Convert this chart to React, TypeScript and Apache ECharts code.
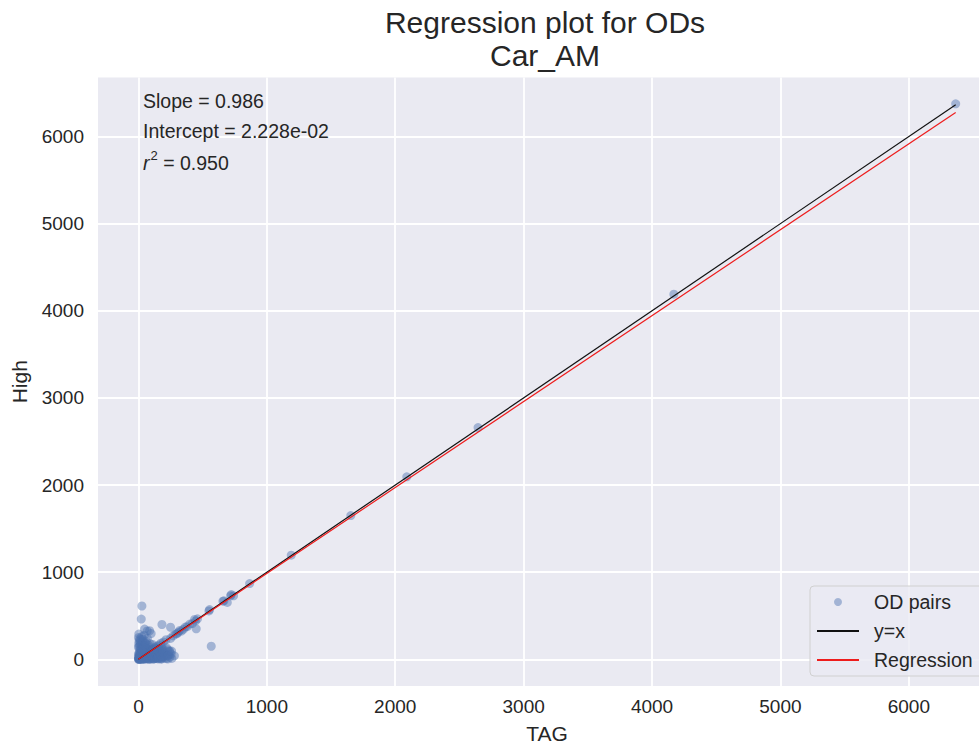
import React, { useEffect, useRef } from "react";
import * as echarts from "echarts";

const titleLines = ["Regression plot for ODs", "Car_AM"];
const xAxisName = "TAG";
const yAxisName = "High";
const seriesNames = ["OD pairs", "y=x", "Regression"];

const slope = 0.986;
const intercept = 0.02228;
const rSquared = 0.95;

// dense cluster of small OD pairs
const clusterPoints: [number, number][] = [
  [0, 0], [2, 5], [5, 1], [8, 12], [12, 3], [15, 20], [3, 18], [20, 8], [25, 30], [10, 40],
  [30, 15], [35, 5], [5, 55], [40, 35], [45, 10], [18, 60], [50, 50], [55, 22], [60, 5], [8, 75],
  [28, 80], [65, 40], [70, 70], [75, 15], [22, 95], [80, 55], [85, 0], [90, 90], [95, 30], [40, 110],
  [100, 75], [105, 10], [12, 120], [110, 115], [115, 45], [60, 130], [120, 5], [125, 95], [130, 140], [135, 60],
  [30, 145], [140, 20], [145, 150], [150, 85], [80, 160], [155, 40], [160, 165], [165, 110], [15, 170], [170, 10],
  [175, 185], [180, 70], [50, 190], [185, 140], [190, 30], [195, 200], [200, 100], [205, 15], [210, 60],
  [215, 225], [220, 130], [35, 230], [225, 40], [230, 5], [240, 90], [245, 25], [250, 240], [255, 60],
  [260, 10], [70, 240], [5, 210], [25, 260], [45, 275], [3, 290], [270, 270], [280, 40], [290, 290],
  [1, 30], [3, 3], [6, 25], [9, 9], [14, 45], [17, 2], [21, 33], [24, 14], [27, 52], [31, 0],
  [33, 27], [36, 64], [38, 18], [42, 48], [44, 2], [47, 72], [52, 31], [54, 88], [57, 12], [62, 58],
  [64, 102], [67, 25], [72, 45], [74, 118], [77, 3], [82, 85], [84, 30], [87, 135], [92, 52], [94, 18],
  [97, 105], [102, 38], [107, 68], [112, 2], [117, 88], [122, 28], [127, 125], [132, 48], [137, 10], [142, 100],
  [147, 70], [152, 5], [157, 125], [162, 52], [167, 88], [172, 35], [182, 5], [187, 95], [192, 55],
  [202, 38], [218, 8], [228, 110], [238, 55], [258, 95], [20, 130], [10, 100],
  [38, 160], [55, 140], [90, 180], [0, 60], [0, 140], [2, 180], [0, 250], [60, 210], [110, 170],
  [4, 8], [7, 35], [11, 15], [13, 65], [16, 28], [19, 48], [23, 4], [26, 70], [29, 38], [32, 88],
  [34, 11], [37, 45], [41, 22], [43, 95], [46, 58], [49, 6], [51, 105], [53, 42], [56, 74], [58, 19],
  [61, 115], [63, 35], [66, 85], [69, 8], [71, 55], [73, 98], [76, 28], [78, 68], [81, 12], [83, 108],
  [86, 48], [88, 22], [91, 72], [93, 5], [96, 62], [98, 40], [103, 88], [106, 25], [108, 50], [113, 78],
  [116, 15], [118, 110], [121, 60], [124, 35], [128, 8], [131, 85], [134, 22], [138, 45], [143, 125], [146, 12],
  [151, 58], [154, 30], [158, 95], [163, 18], [168, 62], [173, 4], [178, 42], [183, 120], [188, 18], [193, 80],
  [6, 150], [14, 195], [24, 175], [33, 205], [9, 235], [19, 225], [42, 135], [28, 115], [48, 160], [58, 180],
];

// points spread along the diagonal
const diagonalPoints: [number, number][] = [
  [300, 295], [310, 310], [320, 330], [335, 325], [350, 345], [365, 370], [380, 375], [400, 405],
  [420, 410], [437, 457], [445, 441], [460, 465], [549, 556], [554, 571], [658, 667], [666, 672],
  [692, 653], [718, 729], [723, 743], [741, 729], [866, 869], [1190, 1195], [1654, 1650],
  [2090, 2095], [2645, 2660], [4170, 4190], [6365, 6375],
];

// scattered outliers
const outlierPoints: [number, number][] = [
  [27, 612], [22, 462], [48, 347], [87, 328], [68, 326], [99, 296], [183, 400], [250, 368],
  [450, 350], [567, 150], [243, 96], [230, 42],
];

const allPoints = [...clusterPoints, ...diagonalPoints, ...outlierPoints];
const xMaxData = Math.max(...allPoints.map((p) => p[0]));
const xMinData = Math.min(...allPoints.map((p) => p[0]));

const xRange = [-315, 6679];
const yRange = [-306, 6677];

const TEXT = "#262626";
const FONT = "'Liberation Sans', Arial, sans-serif";

export default function App() {
  const ref = useRef<HTMLDivElement>(null);
  useEffect(() => {
    if (!ref.current) return;
    const chart = echarts.init(ref.current, null, { renderer: "svg" });
    const fmt = (v: number) => String(v);
    chart.setOption({
      animation: false,
      backgroundColor: "#ffffff",
      textStyle: { fontFamily: FONT, color: TEXT },
      title: {
        text: titleLines.join("\n"),
        left: "center",
        top: 6,
        padding: 0,
        textStyle: { fontSize: 30, fontWeight: "normal", color: TEXT, lineHeight: 33, fontFamily: FONT },
      },
      grid: {
        left: 98,
        width: 898,
        top: 77.5,
        height: 611,
        show: true,
        backgroundColor: "#EAEAF2",
        borderWidth: 0,
      },
      xAxis: {
        type: "value",
        min: xRange[0],
        max: xRange[1],
        splitNumber: 7,
        name: xAxisName,
        nameLocation: "middle",
        nameGap: 37,
        nameTextStyle: { fontSize: 21, color: TEXT, fontFamily: FONT },
        axisLine: { show: false },
        axisTick: { show: false },
        axisLabel: {
          formatter: fmt,
          fontSize: 19,
          color: TEXT,
          margin: 11,
          showMinLabel: false,
          showMaxLabel: false,
          fontFamily: FONT,
        },
        splitLine: { show: true, showMinLine: false, showMaxLine: false, lineStyle: { color: "#ffffff", width: 1.8 } },
      },
      yAxis: {
        type: "value",
        min: yRange[0],
        max: yRange[1],
        splitNumber: 7,
        name: yAxisName,
        nameLocation: "middle",
        nameGap: 68,
        nameTextStyle: { fontSize: 21, color: TEXT, fontFamily: FONT },
        axisLine: { show: false },
        axisTick: { show: false },
        axisLabel: {
          formatter: fmt,
          fontSize: 19,
          color: TEXT,
          margin: 14,
          showMinLabel: false,
          showMaxLabel: false,
          fontFamily: FONT,
        },
        splitLine: { show: true, showMinLine: false, showMaxLine: false, lineStyle: { color: "#ffffff", width: 1.8 } },
      },
      legend: {
        orient: "vertical",
        left: 810,
        top: 586,
        padding: [6, 14, 6, 6],
        itemGap: 9,
        itemWidth: 42,
        itemHeight: 8,
        backgroundColor: "rgba(234,234,242,0.8)",
        borderColor: "#d0d0d0",
        borderWidth: 1,
        borderRadius: 4,
        textStyle: { fontSize: 19.5, color: TEXT, lineHeight: 20, padding: [0, 0, 0, 10], fontFamily: FONT },
        data: [
          { name: seriesNames[0], icon: "circle" },
          { name: seriesNames[1], itemStyle: { opacity: 0 } },
          { name: seriesNames[2], itemStyle: { opacity: 0 } },
        ],
      },
      graphic: [
        {
          type: "text",
          left: 143,
          top: 91,
          z: 100,
          style: { text: "Slope = " + slope.toFixed(3), fontSize: 19.5, fill: TEXT, fontFamily: FONT },
        },
        {
          type: "text",
          left: 143,
          top: 121,
          z: 100,
          style: {
            text: "Intercept = " + intercept.toExponential(3).replace("e-2", "e-02"),
            fontSize: 19.5,
            fill: TEXT,
            fontFamily: FONT,
          },
        },
        {
          type: "text",
          left: 143,
          top: 149,
          z: 100,
          style: {
            text: "{i|r}{s|2}{n| = " + rSquared.toFixed(3) + "}",
            fontSize: 19.5,
            fill: TEXT,
            fontFamily: FONT,
            rich: {
              i: { fontStyle: "italic", fontSize: 19.5, lineHeight: 24, verticalAlign: "bottom", fontFamily: FONT, fill: TEXT },
              s: { fontSize: 13, lineHeight: 24, verticalAlign: "top", padding: [0, 0, 0, 1], fontFamily: FONT, fill: TEXT },
              n: { fontSize: 19.5, lineHeight: 24, verticalAlign: "bottom", fontFamily: FONT, fill: TEXT },
            },
          },
        },
      ],
      series: [
        {
          name: seriesNames[0],
          type: "scatter",
          data: allPoints,
          symbolSize: 9,
          itemStyle: { color: "#4C72B0", opacity: 0.45 },
          emphasis: { disabled: true },
          z: 2,
        },
        {
          name: seriesNames[1],
          type: "line",
          data: [
            [xMinData, xMinData],
            [xMaxData, xMaxData],
          ],
          symbol: "none",
          lineStyle: { color: "#111111", width: 1.2 },
          itemStyle: { color: "#111111" },
          z: 3,
        },
        {
          name: seriesNames[2],
          type: "line",
          data: [
            [xMinData, slope * xMinData + intercept],
            [xMaxData, slope * xMaxData + intercept],
          ],
          symbol: "none",
          lineStyle: { color: "#ee1c1c", width: 1.2 },
          itemStyle: { color: "#ee1c1c" },
          z: 4,
        },
      ],
    });
    return () => chart.dispose();
  }, []);
  return (
    <div
      style={{
        position: "fixed",
        left: 0,
        top: 0,
        width: 979,
        height: 749,
        overflow: "hidden",
        background: "#fff",
      }}
    >
      <div ref={ref} style={{ width: 1090, height: 749 }} />
    </div>
  );
}
